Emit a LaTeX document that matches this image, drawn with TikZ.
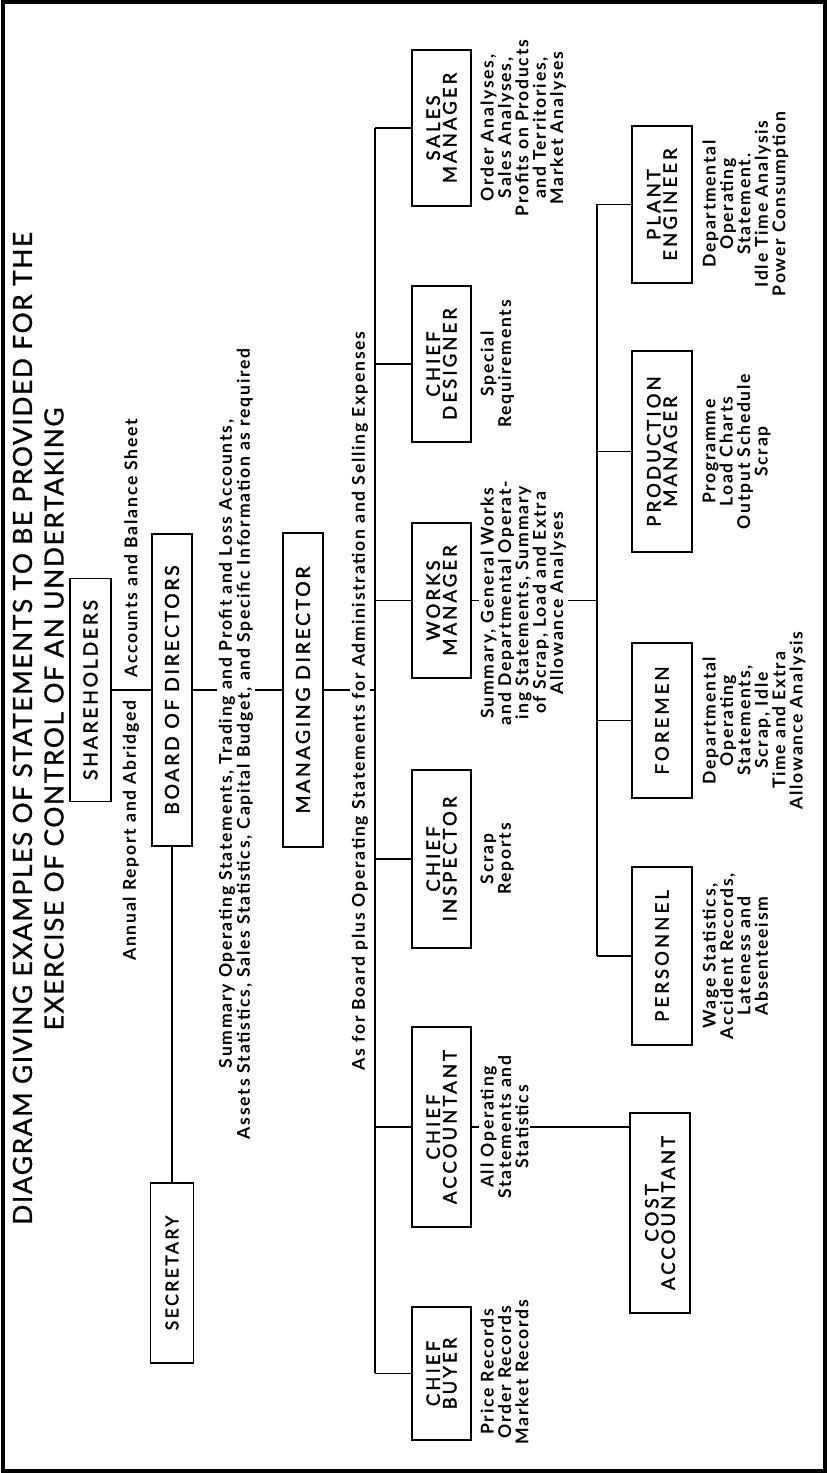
\documentclass[tikz,border=0pt]{standalone}
\usepackage{fontspec}
\setmainfont{Lato}
\newfontfamily\titlefont{Lato}[LetterSpace=6, FakeBold=1]
\newfontfamily\topfont{Lato}[LetterSpace=14, FakeBold=2]
\newfontfamily\boxfont{Lato}[LetterSpace=17, FakeBold=2]
\newfontfamily\notefont{Lato}[LetterSpace=10]

\tikzset{
	topbox/.style={draw, line width=1.1pt, minimum height=0.81cm, inner sep=0pt, font=\topfont\fontsize{11}{13}\selectfont},
	unitbox/.style={draw, line width=1.1pt, minimum height=1.19cm, inner sep=0pt, align=center, font=\boxfont\fontsize{10.5}{9.4}\selectfont},
	note/.style={inner sep=1pt, fill=white, align=center, font=\notefont\bfseries\fontsize{10}{9.9}\selectfont},
	link/.style={line width=1pt}
}

\begin{document}
\begin{tikzpicture}
\begin{scope}[rotate=90, transform shape]
	\useasboundingbox (0,0) rectangle (29.46,16.58);
	\draw[line width=1.8pt] (0.04,0.08) rectangle (29.42,16.52);
	
	% title
	\node[inner sep=0pt, font=\titlefont\fontsize{15}{18}\selectfont] (title1) at (14.89,16.13) {DIAGRAM GIVING EXAMPLES OF STATEMENTS TO BE PROVIDED FOR THE};
	\node[inner sep=0pt, font=\titlefont\fontsize{15}{18}\selectfont] (title2) at (15.08,15.50) {EXERCISE OF CONTROL OF AN UNDERTAKING};
	
	% top of the chain
	\node[topbox, minimum width=4.46cm] (share) at (15.66,14.77) {SHAREHOLDERS};
	\node[topbox, minimum width=6.24cm] (board) at (15.66,13.14) {BOARD OF DIRECTORS};
	\node[topbox, minimum width=6.28cm] (md) at (15.66,10.52) {MANAGING DIRECTOR};
	\node[topbox, minimum width=3.6cm, minimum height=0.86cm, font=\topfont\fontsize{10}{12}\selectfont] (sec) at (4.00,13.14) {SECRETARY};
	
	% second row
	\node[unitbox, minimum width=3.12cm] (sales) at (26.90,7.75) {SALES\\MANAGER};
	\node[unitbox, minimum width=3.12cm] (design) at (22.18,7.75) {CHIEF\\DESIGNER};
	\node[unitbox, minimum width=3.10cm] (works) at (17.45,7.75) {WORKS\\MANAGER};
	\node[unitbox, minimum width=3.56cm] (inspect) at (12.28,7.75) {CHIEF\\INSPECTOR};
	\node[unitbox, minimum width=4.00cm] (chacc) at (6.92,7.75) {CHIEF\\ACCOUNTANT};
	\node[unitbox, minimum width=2.66cm] (buyer) at (1.99,7.75) {CHIEF\\BUYER};
	
	% third row
	\node[unitbox, minimum width=3.14cm] (plant) at (25.37,3.34) {PLANT\\ENGINEER};
	\node[unitbox, minimum width=4.02cm] (prod) at (20.43,3.34) {PRODUCTION\\MANAGER};
	\node[unitbox, minimum width=3.10cm] (foremen) at (15.05,3.34) {FOREMEN};
	\node[unitbox, minimum width=3.56cm] (personnel) at (10.34,3.34) {PERSONNEL};
	\node[unitbox, minimum width=4.00cm] (cost) at (5.20,3.38) {COST\\ACCOUNTANT};
	
	% lines
	\coordinate (bus) at (0,9.08);
	\coordinate (lowbus) at (0,4.64);
	
	\draw[link] (share) -- (board);
	\draw[link] (board) -- (md);
	\draw[link] (board) -- (sec);
	\draw[link] (md) -- (md |- bus);
	\draw[link] (sales |- bus) -- (buyer |- bus);
	\foreach \n in {sales,design,works,inspect,chacc,buyer}
		\draw[link] (\n) -- (\n |- bus);
	\draw[link] (plant |- lowbus) -- (personnel |- lowbus);
	\foreach \n in {plant,prod,foremen,personnel}
		\draw[link] (\n) -- (\n |- lowbus);
	\draw[link] (works) -- (works |- lowbus);
	\draw[link] (chacc) -- (chacc |- cost.north);
	
	% statements
	\node[note, anchor=east, inner sep=0pt] (annual) at (15.46,13.96) {Annual Report and Abridged};
	\node[note, anchor=west, inner sep=0pt] (accounts) at (15.90,13.96) {Accounts and Balance Sheet};
	\node[note, font=\notefont\bfseries\fontsize{10}{8.8}\selectfont] (summary) at (14.58,11.86) {Summary Operating Statements, Trading and Profit and Loss Accounts,\\Assets Statistics, Sales Statistics, Capital Budget, and Specific Information as required};
	\node[note] (asfor) at (15.44,9.38) {As for Board plus Operating Statements for Administration and Selling Expenses};
	
	\node[note, anchor=north] (salesnote) at (26.90,7.01) {Order Analyses,\\Sales Analyses,\\Profits on Products\\and Territories,\\Market Analyses};
	\node[note, anchor=north] (designnote) at (22.18,7.01) {Special\\Requirements};
	\node[note, anchor=north] (worksnote) at (17.40,7.01) {Summary, General Works\\and Departmental Operat-\\ing Statements, Summary\\of Scrap, Load and Extra\\Allowance Analyses};
	\node[note, anchor=north] (inspectnote) at (12.28,7.01) {Scrap\\Reports};
	\node[note, anchor=north] (chaccnote) at (6.92,7.01) {All Operating\\Statements and\\Statistics};
	\node[note, anchor=north] (buyernote) at (2.02,7.01) {Price Records\\Order Records\\Market Records};
	
	\node[note, anchor=north] (plantnote) at (25.38,2.57) {Departmental\\Operating\\Statement.\\Idle Time Analysis\\Power Consumption};
	\node[note, anchor=north] (prodnote) at (20.43,2.57) {Programme\\Load Charts\\Output Schedule\\Scrap};
	\node[note, anchor=north] (foremennote) at (15.05,2.57) {Departmental\\Operating\\Statements,\\Scrap, Idle\\Time and Extra\\Allowance Analysis};
	\node[note, anchor=north] (personnelnote) at (10.34,2.57) {Wage Statistics,\\Accident Records,\\Lateness and\\Absenteeism};
\end{scope}
\end{tikzpicture}
\end{document}
